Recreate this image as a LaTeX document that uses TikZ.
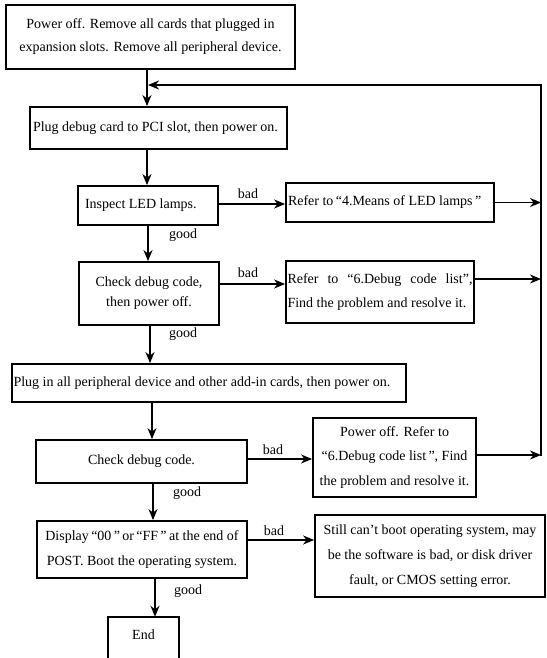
\documentclass[tikz,border=0pt]{standalone}
\usepackage{fontspec}
\setmainfont{Liberation Serif}
\usetikzlibrary{arrows.meta}
\begin{document}
\begin{tikzpicture}[x=1pt,y=-1pt,
  font=\fontsize{14}{23}\selectfont,
  box/.style={draw, line width=1.8pt, inner sep=0pt, align=center},
  arr/.style={line width=1.7pt, -{Stealth[length=11pt,width=9pt,inset=3.5pt]}},
  plain/.style={line width=1.8pt},
  lbl/.style={inner sep=0pt, font=\fontsize{14}{16}\selectfont}]
\useasboundingbox[fill=white] (0,0) rectangle (546,658);
\clip (0,0) rectangle (546,658);

% boxes
\node[box, minimum width=289pt, minimum height=64pt] (b1) at (150.5,37)
  {Power off. Remove all cards that plugged in\\expansion slots. Remove all peripheral device.};
\node[box, minimum width=257pt, minimum height=42pt] (b2) at (158.5,128)
  {\makebox[251pt][l]{Plug debug card to PCI slot, then power on.}};
\node[box, minimum width=140pt, minimum height=39pt] (b3) at (148,205.5)
  {\makebox[126pt][l]{Inspect LED lamps.}};
\node[box, minimum width=208pt, minimum height=39pt] (b4) at (390,202.5)
  {\makebox[204pt][l]{Refer to\,“4.Means of LED lamps\,”}};
\node[box, font=\fontsize{14}{20}\selectfont, minimum width=140pt, minimum height=63pt] (b5) at (149,293.5)
  {Check debug code,\\then power off.};
\node[box, font=\fontsize{14}{24}\selectfont, minimum width=188pt, minimum height=62pt] (b6) at (380,292)
  {\makebox[185pt][s]{Refer to “6.Debug code list”,}\\\makebox[185pt][l]{Find the problem and resolve it.}};
\node[box, minimum width=394pt, minimum height=38pt] (b7) at (209,383)
  {\makebox[391pt][l]{Plug in all peripheral device and other add-in cards, then power on.}};
\node[box, minimum width=211pt, minimum height=43pt] (b8) at (141.5,461.5)
  {Check debug code.};
\node[box, font=\fontsize{14}{24.5}\selectfont, minimum width=163pt, minimum height=79pt] (b9) at (394.5,457.5)
  {Power off. Refer to\\“6.Debug code list\,”, Find\\the problem and resolve it.};
\node[box, font=\fontsize{14}{25}\selectfont, minimum width=210pt, minimum height=57pt] (b10) at (142,549.5)
  {Display\,“00\,”\,or\,“FF\,”\,at the end of\\POST. Boot the operating system.};
\node[box, font=\fontsize{14}{25}\selectfont, minimum width=230pt, minimum height=82pt] (b11) at (430,556)
  {Still can’t boot operating system, may\\be the software is bad, or disk driver\\fault, or CMOS setting error.};
\node[inner sep=0pt, minimum width=71pt, minimum height=36pt] (b12) at (143.5,635) {End};
\coordinate (low) at (0,664);
\draw[plain] (b12.north west |- low) -- (b12.north west) -- (b12.north east) -- (b12.north east |- low);

% helper coordinates
\coordinate (cA) at (147,0);
\coordinate (cC) at (148,0);
\coordinate (cD) at (150,0);
\coordinate (cE) at (152,0);
\coordinate (cF) at (153,0);
\coordinate (cG) at (155,0);
\coordinate (Rtop) at (541,85);
\coordinate (Rbot) at (541,456);
\coordinate (J) at (148,85);
\coordinate (y34) at (0,204);
\coordinate (y56) at (0,284);
\coordinate (y6R) at (0,279);
\coordinate (y89) at (0,459);
\coordinate (y9R) at (0,455);
\coordinate (y1011) at (0,540);

% main column
\draw[arr] (b1.south -| cA) -- (b2.north -| cA);
\draw[arr] (b2.south -| cA) -- (b3.north -| cA);
\draw[arr] (b3.south -| cC) -- (b5.north -| cC);
\draw[arr] (b5.south -| cD) -- (b7.north -| cD);
\draw[arr] (b7.south -| cE) -- (b8.north -| cE);
\draw[arr] (b8.south -| cF) -- (b10.north -| cF);
\draw[arr] (b10.south -| cG) -- (b12.north -| cG);

% bad branches
\draw[arr] (b3.east |- y34) -- (b4.west |- y34);
\draw[arr] (b5.east |- y56) -- (b6.west |- y56);
\draw[arr] (b8.east |- y89) -- (b9.west |- y89);
\draw[arr] (b10.east |- y1011) -- (b11.west |- y1011);

% return loop
\draw[arr] (b4.east) -- (b4.east -| Rtop);
\draw[arr] (b6.east |- y6R) -- (Rtop |- y6R);
\draw[arr] (b9.east |- y9R) -- (Rtop |- y9R);
\draw[arr] (Rbot) -- (Rtop) -- (J);

% labels
\node[lbl] (l1) at (248,194) {bad};
\node[lbl] (l2) at (248,273) {bad};
\node[lbl] (l3) at (273,450) {bad};
\node[lbl] (l4) at (274,531) {bad};
\node[lbl] (g1) at (183,235) {good};
\node[lbl] (g2) at (183,334) {good};
\node[lbl] (g3) at (187,493) {good};
\node[lbl] (g4) at (188,591) {good};
\end{tikzpicture}
\end{document}
